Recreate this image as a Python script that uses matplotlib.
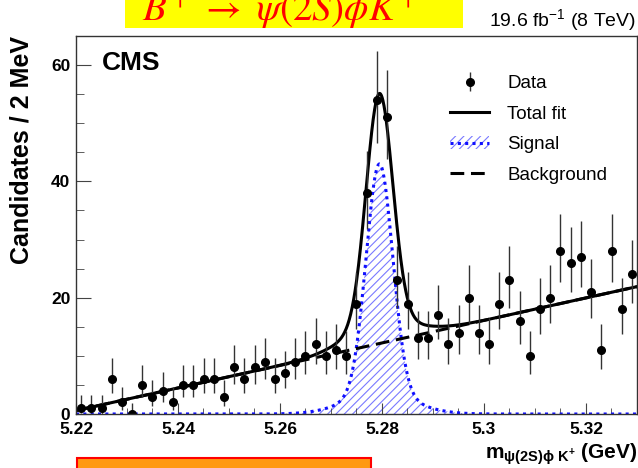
import numpy as np
import matplotlib
matplotlib.use("Agg")
import matplotlib.pyplot as plt
from matplotlib.patches import Rectangle, Patch
from matplotlib.lines import Line2D

plt.rcParams['font.family'] = ['Liberation Sans', 'DejaVu Sans']
plt.rcParams['mathtext.fontset'] = 'custom'
plt.rcParams['mathtext.rm'] = 'Liberation Sans'
plt.rcParams['mathtext.bf'] = 'Liberation Sans:bold'
plt.rcParams['mathtext.it'] = 'Liberation Sans:italic'
plt.rcParams['hatch.linewidth'] = 0.8

# --- data: candidates per 2 MeV bin, 5.22 - 5.33 GeV ---
bin_lo = 5.22
bin_width = 0.002
counts = [1, 1, 1, 6, 2, 0, 5, 3, 4, 2,
          5, 5, 6, 6, 3, 8, 6, 8, 9, 6,
          7, 9, 10, 12, 10, 11, 10, 19, 38, 54,
          51, 23, 19, 13, 13, 17, 12, 14, 20, 14,
          12, 19, 23, 16, 10, 18, 20, 28, 26, 27,
          21, 11, 28, 18, 24]

# --- fit result ---
sig_mass = 5.2795          # GeV
sig_core = (39.5, 0.0026)  # amplitude, sigma
sig_tail = (3.5, 0.0065)
bkg_ends = (0.6, 21.9)     # background at 5.22 and 5.33

xticks = [5.22, 5.24, 5.26, 5.28, 5.30, 5.32]
xtick_labels = ['5.22', '5.24', '5.26', '5.28', '5.3', '5.32']
yticks = [0, 20, 40, 60]

n = np.array(counts, dtype=float)
centers = bin_lo + bin_width * (np.arange(len(n)) + 0.5)
x_hi = bin_lo + bin_width * len(n)

# Poisson (Garwood-like) errors
lo = np.where(n > 0, n * (1 - 1 / (9 * np.maximum(n, 1)) - 1 / (3 * np.sqrt(np.maximum(n, 1)))) ** 3, 0)
up = (n + 1) * (1 - 1 / (9 * (n + 1)) + 1 / (3 * np.sqrt(n + 1))) ** 3
yerr = [n - lo, up - n]

m = np.linspace(bin_lo, x_hi, 1500)
signal = (sig_core[0] * np.exp(-0.5 * ((m - sig_mass) / sig_core[1]) ** 2)
          + sig_tail[0] * np.exp(-0.5 * ((m - sig_mass) / sig_tail[1]) ** 2))
background = bkg_ends[0] + (bkg_ends[1] - bkg_ends[0]) * (m - bin_lo) / (x_hi - bin_lo)
total = signal + background

fig = plt.figure(figsize=(6.38, 4.68), dpi=100)
ax = fig.add_axes([76 / 638, 54 / 468, 561 / 638, 378 / 468])

blue = '#1010ff'
hatch_col = '#7a7aff'
ax.fill_between(m, 0, signal, facecolor='none', edgecolor=hatch_col, linewidth=0, hatch='////')
ax.plot(m, signal, color=blue, lw=2.2, ls=(0, (1, 1.4)))
ax.plot(m, background, color='black', lw=2.2, ls=(0, (4.5, 2.2)))
ax.plot(m, total, color='black', lw=2.2)
eb = ax.errorbar(centers, n, yerr=yerr, fmt='o', color='black', ms=5.5,
                 ecolor='#333333', elinewidth=1.0, capsize=0)

ax.set_xlim(bin_lo, x_hi)
ax.set_ylim(0, 65)
ax.set_xticks(xticks)
ax.set_xticklabels(xtick_labels)
ax.set_xticks(np.arange(5.22, 5.3301, 0.005), minor=True)
ax.set_yticks(yticks)
ax.set_yticks(np.arange(0, 66, 5), minor=True)
ax.tick_params(axis='both', which='both', direction='in', top=False, right=False,
               color='#444444', labelsize=12.5)
ax.tick_params(axis='y', which='major', length=11, pad=4)
ax.tick_params(axis='y', which='minor', length=6)
ax.tick_params(axis='x', which='major', length=8, pad=6)
ax.tick_params(axis='x', which='minor', length=4)
for lab in ax.get_xticklabels() + ax.get_yticklabels():
    lab.set_fontweight('bold')
for sp in ax.spines.values():
    sp.set_color('#333333')
    sp.set_linewidth(1.0)

ax.set_ylabel('Candidates / 2 MeV', fontsize=18, fontweight='bold', loc='top')
ax.yaxis.set_label_coords(-0.075, 1.0)
ax.set_xlabel(r'$\mathbf{m_{\psi(2S)\phi\ K^{+}}\ (GeV)}$', fontsize=15, loc='right')
ax.xaxis.set_label_coords(1.0, -0.074)

ax.text(102 / 638, 1 - 63 / 468, 'CMS', transform=fig.transFigure, fontsize=19,
        fontweight='bold', va='center', ha='left')
fig.text(636 / 638, 1 - 20 / 468, r'19.6 fb$^{-1}$ (8 TeV)', fontsize=14, ha='right', va='center')

handles = [eb,
           Line2D([], [], color='black', lw=2.2),
           (Patch(facecolor='none', edgecolor=hatch_col, hatch='////', linewidth=0),
            Line2D([], [], color=blue, lw=2.2, ls=(0, (1, 1.4)))),
           Line2D([], [], color='black', lw=2.2, ls=(0, (4.5, 2.2)))]
labels = ['Data', 'Total fit', 'Signal', 'Background']
ax.legend(handles, labels, loc='upper left', bbox_to_anchor=(450 / 638, 1 - 75 / 468),
          bbox_transform=fig.transFigure, frameon=False, fontsize=13.5,
          handlelength=2.1, handletextpad=0.95, labelspacing=0.72, borderpad=0, borderaxespad=0)

# title banner (cut at top) and box at the bottom
fig.add_artist(Rectangle((125 / 638, 1 - 28 / 468), 338 / 638, 40 / 468,
                         transform=fig.transFigure, facecolor='#ffff00', edgecolor='none', zorder=0))
fig.text(280 / 638, 1 - 20 / 468, r'$B^{+}\ \rightarrow\ \psi(2S)\phi K^{+}$', color='red',
         fontsize=28, ha='center', va='baseline', math_fontfamily='stix')
fig.add_artist(Rectangle((77 / 638, -10 / 468), 294 / 638, 20 / 468,
                         transform=fig.transFigure, facecolor='#ff9912', edgecolor='red', lw=1.5))

fig.savefig('out.png', dpi=100)
